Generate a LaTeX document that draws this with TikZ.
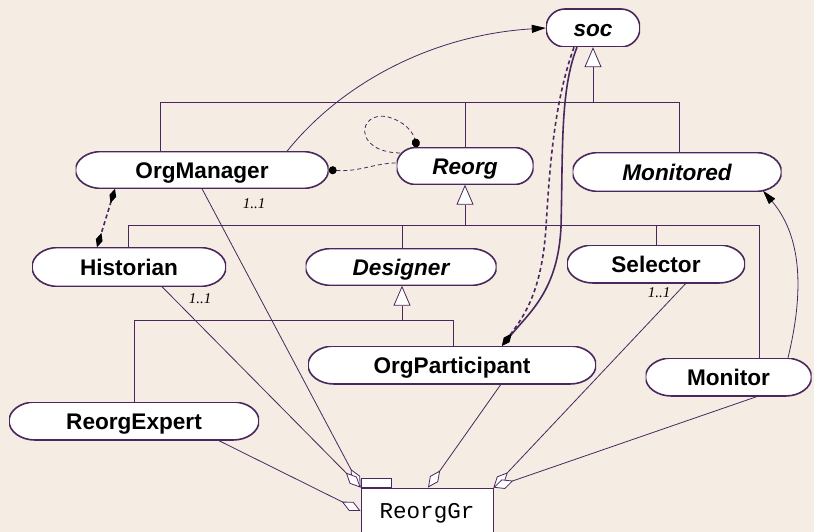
\documentclass[tikz,border=0pt]{standalone}
\usepackage{fontspec}
\setmainfont{Liberation Sans}
\newfontfamily\multfont{Liberation Serif}
\newfontfamily\codefont{Liberation Mono}
\usetikzlibrary{arrows.meta,calc}
\definecolor{bg}{RGB}{245,236,228}
\definecolor{ink}{RGB}{74,40,94}
\def\capend{26pt}
\tikzset{
  % pill-shaped class box with elliptical ends (quarter ellipses as Bezier arcs)
  endradius/.code={\def\capend{#1}},
  cls/.style={rectangle, fill=bg, inner sep=0pt, text height=16.2pt, text depth=0pt,
    font=\fontsize{22.6}{26}\selectfont\bfseries,
    path picture={
      \draw[draw=ink, line width=1.6pt, fill=white]
        let \p1=(path picture bounding box.north east),
            \p2=(path picture bounding box.south west),
            \n1={\capend}, \n2={(\y1-\y2)/2}, \n3={(\y1+\y2)/2},
            \n4={0.4477*\capend}, \n5={0.5523*(\y1-\y2)/2} in
        (\x2+\n1,\y1) -- (\x1-\n1,\y1)
        .. controls (\x1-\n4,\y1) and (\x1,\n3+\n5) .. (\x1,\n3)
        .. controls (\x1,\n3-\n5) and (\x1-\n4,\y2) .. (\x1-\n1,\y2)
        -- (\x2+\n1,\y2)
        .. controls (\x2+\n4,\y2) and (\x2,\n3-\n5) .. (\x2,\n3)
        .. controls (\x2,\n3+\n5) and (\x2+\n4,\y1) .. (\x2+\n1,\y1) -- cycle;
    }},
  abstractcls/.style={cls, font=\fontsize{22.6}{26}\selectfont\bfseries\itshape},
  wire/.style={draw=ink, line width=0.8pt},
  gen/.style={wire, -{Triangle[open, length=20pt, width=17pt, fill=white]}},
  agg/.style={wire, -{Diamond[open, length=21pt, width=10pt, fill=white]}},
  assoc/.style={wire, -{Triangle[length=14pt, width=8pt, color=black]}},
  dashlink/.style={wire, dash pattern=on 4pt off 3pt},
  compo/.style={wire, line width=1.6pt, dash pattern=on 4pt off 3pt,
    {Diamond[length=15pt, width=7pt, color=black]}-{Diamond[length=15pt, width=7pt, color=black]}},
  depthick/.style={wire, line width=1.6pt, -{Diamond[length=15pt, width=7pt, color=black]}},
  mult/.style={font=\multfont\itshape\fontsize{15}{18}\selectfont, inner sep=0pt}
}
\begin{document}
\begin{tikzpicture}[x=1pt, y=-1pt]
  % canvas
  \fill[bg] (0,0) rectangle (814,532);
  \useasboundingbox (0,0) rectangle (814,532);
  \clip (0,0) rectangle (814,532);

  % classes
  \node[abstractcls, endradius=19pt, minimum width=94pt, minimum height=38pt] (soc) at (593,28) {soc};
  \node[cls, minimum width=253pt, minimum height=37pt] (OrgManager) at (202,170) {OrgManager};
  \node[abstractcls, endradius=19pt, minimum width=137pt, minimum height=37pt] (Reorg) at (465,166) {Reorg};
  \node[abstractcls, minimum width=209pt, minimum height=39pt] (Monitored) at (677,172) {Monitored};
  \node[cls, minimum width=194pt, minimum height=39pt] (Historian) at (129,267) {Historian};
  \node[abstractcls, minimum width=191pt, minimum height=37pt] (Designer) at (401,267) {Designer};
  \node[cls, minimum width=178pt, minimum height=38pt] (Selector) at (656,264) {Selector};
  \node[cls, minimum width=288pt, minimum height=38pt] (OrgParticipant) at (452,365) {OrgParticipant};
  \node[cls, minimum width=166pt, minimum height=38pt] (Monitor) at (728.5,377) {Monitor};
  \node[cls, minimum width=250pt, minimum height=38pt] (ReorgExpert) at (134,421) {ReorgExpert};
  \node[rectangle, draw=ink, line width=0.8pt, fill=white, inner sep=0pt,
        minimum width=132pt, minimum height=50pt,
        font=\codefont\fontsize{22.6}{26}\selectfont] (ReorgGr) at (427,513) {ReorgGr};
  \node[rectangle, draw=ink, line width=0.8pt, fill=white, inner sep=0pt,
        minimum width=30pt, minimum height=9pt, anchor=south west] (tab) at (ReorgGr.north west) {};

  % generalisation: soc
  \coordinate (busSoc) at (593,102);
  \draw[wire] ([xshift=-42pt]OrgManager.north) -- ++(0,-49) -| ([xshift=2pt]Monitored.north);
  \draw[wire] (Reorg.north) |- (busSoc);
  \draw[gen] (busSoc) -- (soc.south);

  % generalisation: Reorg
  \coordinate (busReorg) at (465,226);
  \draw[wire] ([xshift=-1pt]Historian.north) -- ++(0,-22) -| ([xshift=30.5pt]Monitor.north);
  \draw[wire] ([xshift=1pt]Designer.north) -- ++(0,-22);
  \draw[wire] (Selector.north) -- ++(0,-19);
  \draw[gen] (busReorg) -- (Reorg.south);

  % generalisation: Designer
  \coordinate (busDesigner) at (402,321);
  \draw[wire] (ReorgExpert.north) -- ++(0,-81) -| ([xshift=1pt]OrgParticipant.north);
  \draw[gen] (busDesigner) -- ([xshift=1pt]Designer.south);

  % aggregations into ReorgGr
  \draw[agg] (OrgManager.south) -- (ReorgGr.north west);
  \draw[agg] ([xshift=33pt]Historian.south) -- (ReorgGr.north west);
  \draw[agg] ([xshift=84pt]ReorgExpert.south) -- ([yshift=2pt]ReorgGr.west);
  \draw[agg] ([xshift=49pt]OrgParticipant.south) -- ([xshift=1pt]ReorgGr.north);
  \draw[agg] ([xshift=30pt]Selector.south) -- (ReorgGr.north east);
  \draw[agg] ([xshift=29.5pt]Monitor.south) -- (ReorgGr.north east);

  % multiplicities
  \node[mult] (m1) at (254,204) {1..1};
  \node[mult] (m2) at (200,299) {1..1};
  \node[mult] (m3) at (659,293) {1..1};

  % associations
  \draw[assoc] ([xshift=85pt]OrgManager.north) .. controls (340,85) and (430,35) .. (soc.west);
  \draw[assoc] ([xshift=59.5pt]Monitor.north) .. controls (802,300) and (805,240) .. ([xshift=86pt,yshift=1pt]Monitored.south);

  % dotted-end links around Reorg
  \coordinate (loopStart) at (400,153);
  \draw[dashlink, {Circle[length=8pt, color=black]}-] (OrgManager.east)
       .. controls (360,172) and (375,163) .. ([yshift=3pt]Reorg.west);
  \draw[dashlink, -{Circle[length=9pt, width=8pt, color=black]}] (loopStart)
       .. controls (352,152) and (358,110) .. (388,117)
       .. controls (404,121) and (413,132) .. ([xshift=-48pt]Reorg.north);

  % OrgManager -- Historian
  \draw[compo] ([xshift=-87pt]OrgManager.south) -- ([xshift=-32pt]Historian.north);

  % soc -- OrgParticipant
  \draw[depthick] ([xshift=-16pt]soc.south) .. controls (560,90) and (563,150) .. (561,227)
       .. controls (558,290) and (530,312) .. ([xshift=50pt]OrgParticipant.north);
  \draw[depthick, dash pattern=on 4pt off 3pt] ([xshift=-19pt]soc.south) .. controls (555,100) and (550,160) .. (546,227)
       .. controls (542,290) and (525,315) .. ([xshift=50pt]OrgParticipant.north);
\end{tikzpicture}
\end{document}
